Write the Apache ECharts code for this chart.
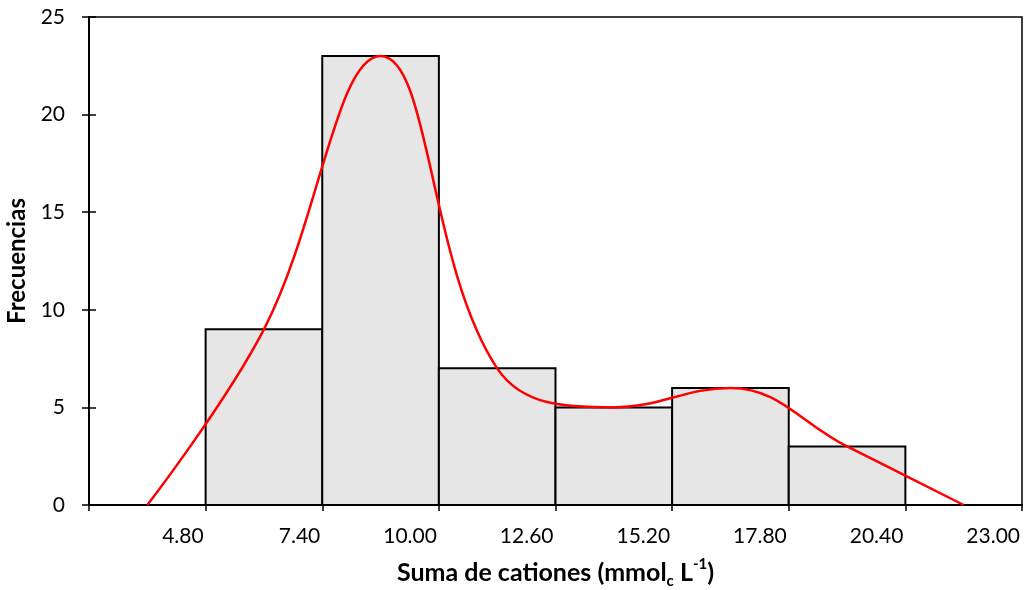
<!DOCTYPE html>
<html><head><meta charset="utf-8">
<script src="https://cdn.jsdelivr.net/npm/echarts@6/dist/echarts.min.js"></script>
<style>html,body{margin:0;padding:0;background:#fff}#c{width:1025px;height:590px}</style>
</head><body><div id="c"></div>
<script>
// x tick labels (bin edges), first tick unlabeled
var xTickLabels = ['', '4.80', '7.40', '10.00', '12.60', '15.20', '17.80', '20.40', '23.00'];
// histogram bins: start tick index, end tick index
var binStart = [1, 2, 3, 4, 5, 6];
var binEnd = [2, 3, 4, 5, 6, 7];
var frequencies = [9, 23, 7, 5, 6, 3];
// smoothed frequency polygon through bin midpoints (tick-index units)
var curveX = [0.5, 1.5, 2.5, 3.5, 4.5, 5.5, 6.5, 7.5];
var curveY = [0, 9, 23, 7, 5, 6, 3, 0];
var yTicks = [0, 5, 10, 15, 20, 25];

var barData = binStart.map(function (s, i) { return [s, binEnd[i], frequencies[i]]; });
var lineData = curveX.map(function (x, i) { return [x, curveY[i]]; });

var chart = echarts.init(document.getElementById('c'));
var font = 'Lato, "Open Sans", sans-serif';
chart.setOption({
  animation: false,
  grid: { left: 89, right: 3, top: 17, bottom: 85, containLabel: false, outerBoundsMode: 'none',
          show: true, borderColor: '#000', borderWidth: 1.5, backgroundColor: 'transparent' },
  xAxis: {
    type: 'value', min: 0, max: xTickLabels.length - 1, interval: 1,
    splitLine: { show: false },
    axisLine: { show: true, lineStyle: { color: '#000', width: 2 } },
    axisTick: { show: true, length: 6, lineStyle: { color: '#000', width: 1.5 } },
    axisLabel: {
      color: '#000', fontFamily: font, fontSize: 21, margin: 21, align: 'right', padding: [0, 2, 0, 0],
      formatter: function (v) { return xTickLabels[Math.round(v)] || ''; }
    },
    name: '{b|Suma de cationes (mmol}{sub|c}{b| L}{sup|-1}{b|)}',
    nameLocation: 'middle', nameGap: 52,
    nameTextStyle: {
      rich: {
        b: { fontFamily: font, fontSize: 25, fontWeight: 'bold', color: '#000', lineHeight: 32 },
        sub: { fontFamily: font, fontSize: 15, fontWeight: 'bold', color: '#000', lineHeight: 15, verticalAlign: 'bottom' },
        sup: { fontFamily: font, fontSize: 15, fontWeight: 'bold', color: '#000', lineHeight: 15, verticalAlign: 'top' }
      }
    }
  },
  yAxis: [{
    type: 'value', min: yTicks[0], max: yTicks[yTicks.length - 1], interval: yTicks[1] - yTicks[0],
    splitLine: { show: false },
    axisLine: { show: true, lineStyle: { color: '#000', width: 2 } },
    axisTick: { show: true, length: 7, lineStyle: { color: '#000', width: 1.5 } },
    axisLabel: { color: '#000', fontFamily: font, fontSize: 21, margin: 24 },
    name: 'Frecuencias', nameLocation: 'middle', nameGap: 58,
    nameTextStyle: { fontFamily: font, fontSize: 24, fontWeight: 'bold', color: '#000' }
  }, {
    type: 'value', min: yTicks[0], max: yTicks[yTicks.length - 1], interval: yTicks[1] - yTicks[0],
    position: 'left', splitLine: { show: false },
    axisLine: { show: false },
    axisTick: { show: true, inside: true, length: 7, lineStyle: { color: '#000', width: 1.5 } },
    axisLabel: { show: false }
  }],
  series: [{
    type: 'custom',
    data: barData,
    renderItem: function (params, api) {
      var p0 = api.coord([api.value(0), api.value(2)]);
      var p1 = api.coord([api.value(1), 0]);
      return {
        type: 'rect',
        shape: { x: p0[0], y: p0[1], width: p1[0] - p0[0], height: p1[1] - p0[1] },
        style: { fill: '#e6e6e6', stroke: '#000', lineWidth: 2 }
      };
    },
    encode: { x: [0, 1], y: 2 },
    z: 2
  }, {
    type: 'line', data: lineData, smooth: 0.4, symbol: 'none',
    lineStyle: { color: '#ff0000', width: 2.5 }, z: 5
  }]
});
</script>
</body></html>
